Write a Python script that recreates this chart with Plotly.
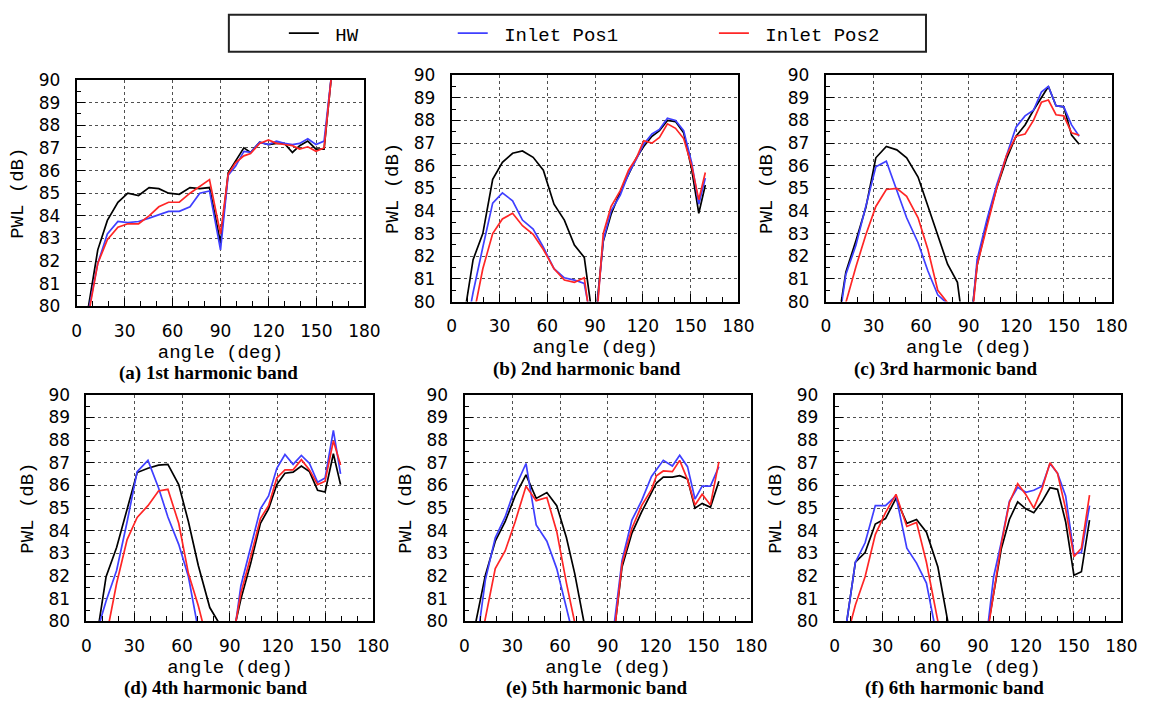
import plotly.graph_objects as go

W, H = 1158, 713

# ---------------- data ----------------
A_ANG = [6, 13.2, 19.2, 25.8, 32, 38.7, 45.3, 51.4, 57.5, 64.2, 70.9, 77, 83.1, 90,
         94.8, 99.5, 104.6, 108.8, 114.5, 120, 125, 130, 135, 139.5, 144.6, 149.7, 154.8, 160]
A_HW = [79.4, 82.5, 83.8, 84.6, 85.0, 84.9, 85.25, 85.2, 85.0, 84.95, 85.25, 85.2, 85.25, 82.8,
        85.9, 86.4, 87.0, 86.8, 87.25, 87.15, 87.2, 87.2, 86.8, 87.1, 87.3, 86.95, 86.95, 90.6]
A_P1 = [79.3, 81.9, 83.2, 83.75, 83.7, 83.75, 83.9, 84.05, 84.2, 84.2, 84.4, 85.0, 85.1, 82.5,
        85.8, 86.2, 86.85, 86.8, 87.25, 87.15, 87.3, 87.2, 87.15, 87.2, 87.4, 87.15, 87.3, 90.6]
A_P2 = [79.1, 81.9, 82.95, 83.5, 83.65, 83.65, 84.0, 84.4, 84.6, 84.6, 85.0, 85.3, 85.6, 83.2,
        85.85, 86.35, 86.65, 86.75, 87.2, 87.35, 87.2, 87.15, 87.1, 86.95, 87.05, 86.85, 87.0, 90.6]

B_ANG = [7, 13.4, 19.5, 25.7, 31.8, 38.2, 44.4, 51.1, 57.5, 64.2, 70.7, 77, 83.2, 89.5,
         95.1, 100, 105.8, 111, 116, 120.5, 125.7, 130.4, 135.4, 140.5, 145.6, 150.6, 155.1, 159.2]
B_HW = [79.0, 81.85, 83.0, 85.4, 86.15, 86.55, 86.65, 86.37, 85.8, 84.3, 83.6, 82.5, 81.95, 78.7,
        82.65, 83.85, 84.85, 85.65, 86.35, 86.85, 87.3, 87.55, 88.0, 87.95, 87.45, 85.85, 83.9, 85.15]
B_P1 = [78.0, 80.4, 82.4, 84.35, 84.8, 84.45, 83.6, 83.2, 82.4, 81.45, 81.05, 80.95, 80.8, 78.4,
        82.7, 84.0, 84.7, 85.65, 86.3, 86.95, 87.4, 87.6, 88.1, 88.0, 87.55, 86.15, 84.3, 85.45]
B_P2 = [77.0, 79.36, 81.45, 83.0, 83.65, 83.9, 83.35, 82.97, 82.3, 81.45, 80.95, 80.85, 81.05, 77.9,
        83.0, 84.2, 84.9, 85.8, 86.35, 87.1, 87.0, 87.25, 87.85, 87.65, 87.2, 86.0, 84.5, 85.7]

C_ANG = [6, 12.6, 19, 25.2, 31.5, 38.1, 44.7, 50.9, 58.1, 64.3, 70.5, 76.7, 82.9, 89,
         95.3, 101.4, 107.6, 113.8, 119.8, 125.5, 130.8, 135.8, 140.2, 145, 149.9, 154.8, 159.6]
C_HW = [78.3, 81.3, 82.7, 84.15, 86.35, 86.85, 86.7, 86.35, 85.5, 84.2, 82.95, 81.65, 80.85, 77.6,
        81.6, 83.45, 85.0, 86.3, 87.3, 87.8, 88.45, 89.0, 89.5, 88.65, 88.6, 87.35, 86.95]
C_P1 = [78.0, 81.2, 82.5, 84.15, 85.95, 86.2, 84.95, 83.7, 82.6, 81.35, 80.3, 79.9, 78.5, 77.0,
        81.85, 83.6, 85.15, 86.5, 87.7, 88.2, 88.45, 89.25, 89.5, 88.65, 88.6, 87.8, 87.3]
C_P2 = [77.5, 79.95, 81.55, 82.95, 84.2, 84.95, 85.0, 84.65, 83.7, 82.3, 80.5, 79.95, 78.5, 77.0,
        81.6, 83.3, 85.0, 86.45, 87.3, 87.4, 88.0, 88.8, 88.9, 88.25, 88.2, 87.45, 87.35]

D_ANG = [6, 12.3, 18.9, 25.5, 31.8, 38.6, 45.2, 51.1, 57.9, 64, 70.2, 77.4, 83, 89.5,
         96.9, 103, 109.2, 114.3, 119.5, 124.6, 129.7, 134.9, 140, 145.1, 149.8, 155, 159.5]
D_HW = [79.1, 81.97, 83.26, 84.97, 86.57, 86.76, 86.9, 86.93, 86.04, 84.4, 82.47, 80.61, 79.95, 78.65,
        80.97, 82.54, 84.33, 84.97, 86.04, 86.54, 86.59, 86.86, 86.61, 85.79, 85.71, 87.4, 86.04]
D_P1 = [79.4, 80.9, 82.25, 84.4, 86.61, 87.11, 85.9, 84.61, 83.4, 81.97, 79.62, 78.0, 77.5, 77.8,
        81.56, 83.19, 84.97, 85.54, 86.76, 87.37, 86.93, 87.33, 86.97, 86.14, 86.33, 88.43, 86.51]
D_P2 = [77.0, 79.2, 81.67, 83.61, 84.59, 85.11, 85.76, 85.83, 84.33, 82.11, 80.69, 78.7, 77.5, 78.3,
        81.23, 82.83, 84.54, 85.11, 86.33, 86.69, 86.69, 87.14, 86.69, 86.04, 86.19, 87.97, 86.9]

E_ANG = [6.5, 13.1, 19.3, 25.5, 31.8, 38.6, 45, 51.7, 57.9, 64, 69.2, 75, 83, 90,
         98.9, 105.1, 111.2, 117.4, 120.5, 124.8, 130.5, 135.1, 140, 144.7, 149.2, 154.4, 159.7]
E_HW = [79.76, 82.04, 83.54, 84.4, 85.54, 86.47, 85.43, 85.69, 85.11, 83.69, 82.11, 79.96, 78.0, 77.2,
        82.4, 83.9, 84.83, 85.69, 86.11, 86.37, 86.37, 86.43, 86.29, 85.0, 85.21, 85.04, 86.19]
E_P1 = [78.4, 81.83, 83.69, 84.61, 85.9, 86.97, 84.26, 83.54, 82.33, 80.58, 79.1, 78.0, 77.5, 77.6,
        82.69, 84.47, 85.33, 86.4, 86.71, 87.11, 86.86, 87.33, 86.83, 85.4, 85.97, 85.97, 86.83]
E_P2 = [77.8, 80.14, 82.33, 83.11, 84.4, 85.97, 85.33, 85.47, 83.97, 81.69, 79.78, 78.0, 77.5, 77.0,
        82.54, 84.11, 85.11, 85.83, 86.43, 86.64, 86.61, 87.11, 86.26, 85.14, 85.61, 85.14, 87.04]

F_ANG = [5, 13, 19.1, 25.5, 31.9, 38.5, 45.3, 51.4, 57.6, 64.8, 71, 80, 90,
         99.8, 104.6, 109.7, 114.9, 120, 125, 130.2, 135.2, 139.9, 145, 150.2, 154.9, 160]
F_HW = [78.74, 82.61, 83.04, 84.3, 84.54, 85.43, 84.33, 84.5, 83.94, 82.4, 80.0, 78.0, 77.2,
        81.3, 83.2, 84.5, 85.28, 84.97, 84.8, 85.29, 85.9, 85.83, 84.4, 82.04, 82.19, 84.47]
F_P1 = [78.74, 82.61, 83.47, 85.11, 85.11, 85.54, 83.23, 82.57, 81.69, 79.1, 78.0, 77.0, 76.1,
        81.97, 83.5, 85.3, 85.92, 85.7, 85.79, 85.97, 86.97, 86.54, 85.54, 82.97, 83.04, 85.11]
F_P2 = [78.6, 80.72, 81.97, 83.83, 84.8, 85.61, 84.19, 84.37, 82.61, 80.0, 78.5, 77.0, 76.8,
        81.23, 83.4, 85.25, 86.08, 85.6, 85.0, 85.86, 87.0, 86.54, 84.97, 82.86, 83.23, 85.57]

SERIES_NAMES = ["HW", "Inlet Pos1", "Inlet Pos2"]
SERIES_COLORS = ["#000000", "#3f3fff", "#ff2626"]
CAPTIONS = ["(a) 1st harmonic band", "(b) 2nd harmonic band", "(c) 3rd harmonic band",
            "(d) 4th harmonic band", "(e) 5th harmonic band", "(f) 6th harmonic band"]
X_TITLE = "angle (deg)"
Y_TITLE = "PWL (dB)"

# ---------------- layout geometry (pixels) ----------------
PANELS = [
    (A_ANG, [A_HW, A_P1, A_P2], (73, 366, 72, 305), (207, 373)),
    (B_ANG, [B_HW, B_P1, B_P2], (455, 747, 67, 300), (593, 369)),
    (C_ANG, [C_HW, C_P1, C_P2], (836, 1127, 67, 300), (958, 369)),
    (D_ANG, [D_HW, D_P1, D_P2], (83, 375, 396, 629), (215, 698)),
    (E_ANG, [E_HW, E_P1, E_P2], (468, 760, 396, 629), (602, 698)),
    (F_ANG, [F_HW, F_P1, F_P2], (845, 1137, 396, 629), (967, 698)),
]

MONO = "Liberation Mono"
TICKF = dict(family="DejaVu Sans", size=17, color="black")

fig = go.Figure()
legends = ["legend", "legend2", "legend3"]
annotations = []

for i, (ang, vals, box, cap) in enumerate(PANELS):
    n = i + 1
    sfx = "" if n == 1 else str(n)
    for k in range(3):
        fig.add_trace(go.Scatter(
            x=ang, y=vals[k], mode="lines",
            line=dict(color=SERIES_COLORS[k], width=1.7),
            name="\u00a0" + SERIES_NAMES[k],
            showlegend=(n == 1), legend=legends[k],
            xaxis="x" + sfx, yaxis="y" + sfx,
        ))
    x0, x1, y0, y1 = box
    common = dict(
        showline=True, linecolor="black", linewidth=2, mirror=True,
        ticks="inside", ticklen=8, tickwidth=1, tickcolor="black",
        showgrid=True, gridcolor="#505050", griddash="dot", gridwidth=1,
        zeroline=False, tickfont=TICKF,
    )
    fig.update_layout(**{
        "xaxis" + sfx: dict(
            domain=[x0 / W, x1 / W], anchor="y" + sfx, range=[0, 180],
            tickmode="linear", tick0=0, dtick=30, ticklabelstandoff=8,
            minor=dict(dtick=10, ticks="inside", ticklen=5, tickcolor="black", showgrid=False),
            title=dict(text=X_TITLE, font=dict(family=MONO, size=19, color="black"), standoff=5),
            **common),
        "yaxis" + sfx: dict(
            domain=[1 - y1 / H, 1 - y0 / H], anchor="x" + sfx, range=[80, 90],
            tickmode="linear", tick0=80, dtick=1, ticklabelstandoff=11,
            minor=dict(dtick=0.5, ticks="inside", ticklen=4, tickcolor="black", showgrid=False),
            title=dict(text=Y_TITLE, font=dict(family=MONO, size=19, color="black"), standoff=10),
            **common),
    })
    annotations.append(dict(
        text="<b>" + CAPTIONS[i] + "</b>", xref="paper", yref="paper",
        x=cap[0] / W, y=1 - cap[1] / H, xanchor="center", yanchor="middle",
        showarrow=False, font=dict(family="Liberation Serif", size=19, color="black")))

legfont = dict(family=MONO, size=19, color="black")
leg_common = dict(orientation="h", xanchor="left", yanchor="middle", y=1 - 24 / H,
                  font=legfont, bgcolor="rgba(0,0,0,0)", borderwidth=0)

fig.update_layout(
    width=W, height=H, autosize=False,
    margin=dict(l=0, r=0, t=0, b=0),
    paper_bgcolor="white", plot_bgcolor="white",
    legend=dict(x=284 / W, **leg_common),
    legend2=dict(x=456 / W, **leg_common),
    legend3=dict(x=722 / W, **leg_common),
    annotations=annotations,
    shapes=[dict(type="rect", xref="paper", yref="paper",
                 x0=228 / W, x1=938 / W, y0=1 - 43 / H, y1=1 - 5 / H,
                 line=dict(color="#222222", width=2), fillcolor="rgba(0,0,0,0)")],
)

fig.write_html("out.html")
